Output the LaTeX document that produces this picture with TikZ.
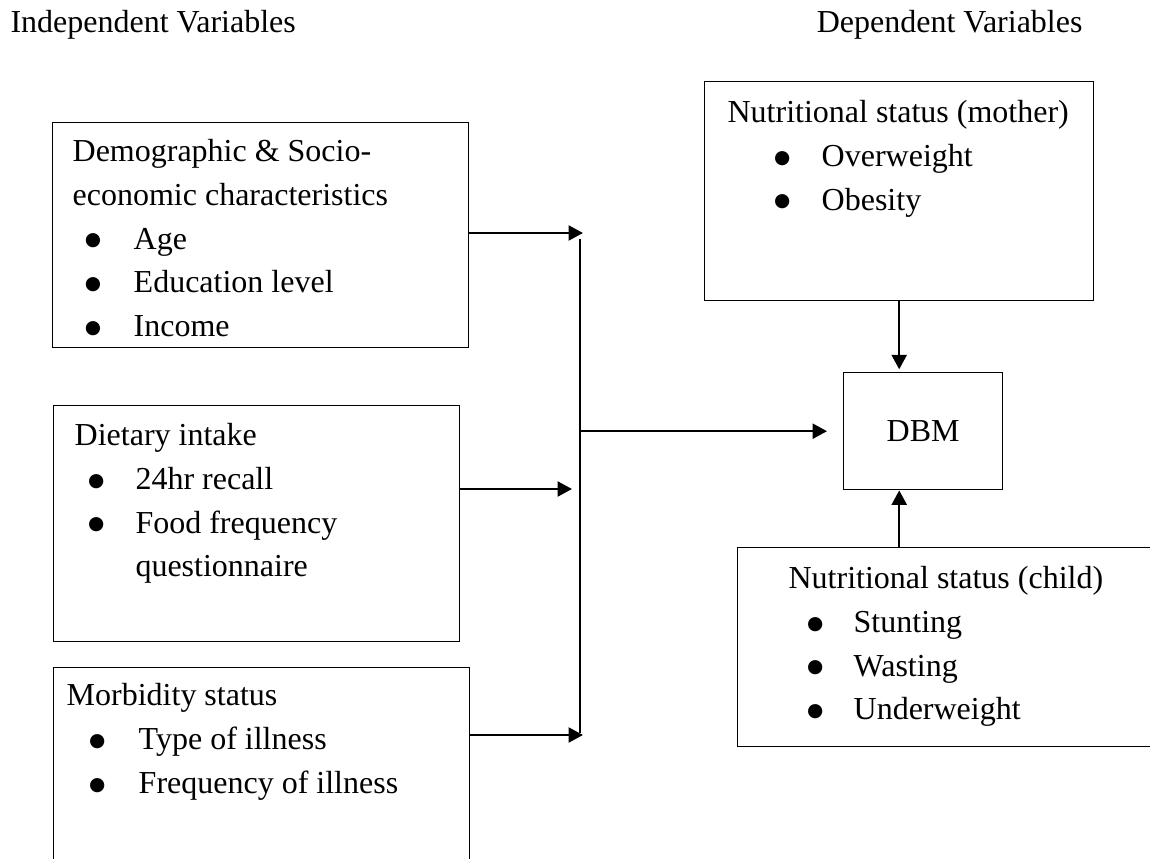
\documentclass[tikz,border=0pt]{standalone}
\usepackage{fontspec}
\setmainfont{Liberation Serif}
\newfontfamily\dotfont{DejaVu Sans}
\usetikzlibrary{arrows.meta,positioning}

\newlength\titx
\newlength\bulx
\newlength\txtx
\newlength\firstb
\newcommand{\setind}[4]{\setlength\titx{#1}\setlength\bulx{#2}\setlength\txtx{#3}\setlength\firstb{#4}}
\newcommand{\vhead}[1]{\vspace*{\dimexpr\firstb-11pt\relax}\rule{0pt}{11pt}\hspace*{\titx}#1}
\newcommand{\vitem}[1]{\par\hspace*{\bulx}\makebox[\dimexpr\txtx-\bulx\relax][l]{\raisebox{1.2pt}{\dotfont\fontsize{7}{7}\selectfont ●}}#1}

\tikzset{
	varbox/.style={draw, line width=0.5pt, anchor=north west, inner sep=0pt},
	link/.style={-{Triangle[length=5.4pt,width=5.6pt]}, line width=0.9pt},
	bus/.style={line width=0.7pt}
}

\begin{document}
\begin{tikzpicture}[x=0.375pt, y=-0.375pt, font=\fontsize{12}{16.4}\selectfont]
	\path[use as bounding box, clip] (0,0) rectangle (1150,859);

	% Headings
	\node[anchor=base west, inner sep=0pt] (indep) at (10,33) {Independent Variables};
	\node[anchor=base east, inner sep=0pt] (dep) at (1083,33) {Dependent Variables};

	% Demographic box
	\node[varbox] (demog) at (52,122) {\parbox[t][84.4pt][t]{156pt}{%
		\setind{7.5pt}{12.1pt}{30.4pt}{14.6pt}%
		\vhead{Demographic \& Socio-}\\\hspace*{\titx}economic characteristics
		\vitem{Age}
		\vitem{Education level}
		\vitem{Income}}};

	% Dietary box
	\node[varbox] (diet) at (53,405) {\parbox[t][88.5pt][t]{152.2pt}{%
		\setind{7.9pt}{12.9pt}{30.7pt}{15pt}%
		\vhead{Dietary intake}
		\vitem{24hr recall}
		\vitem{Food frequency}\\\hspace*{\txtx}questionnaire}};

	% Morbidity box
	\node[varbox] (morb) at (53,667) {\parbox[t][88pt][t]{156pt}{%
		\setind{4.9pt}{13.3pt}{31.9pt}{14.3pt}%
		\vhead{Morbidity status}
		\vitem{Type of illness}
		\vitem{Frequency of illness}}};

	% Mother box
	\node[varbox] (mother) at (704,81) {\parbox[t][82.1pt][t]{145.9pt}{%
		\setind{8.6pt}{26pt}{43.9pt}{15.4pt}%
		\vhead{Nutritional status (mother)}
		\vitem{Overweight}
		\vitem{Obesity}}};

	% DBM box
	\node[varbox] (dbm) at (843,372) {\parbox[c][43.9pt][c]{59.6pt}{\centering DBM}};

	% Child box
	\node[varbox] (child) at (737,547) {\parbox[t][74.6pt][t]{162.4pt}{%
		\setind{19.1pt}{26pt}{43.5pt}{15.4pt}%
		\vhead{Nutritional status (child)}
		\vitem{Stunting}
		\vitem{Wasting}
		\vitem{Underweight}}};

	% Collector line
	\coordinate (in1) at (583,233);
	\coordinate (in2) at (572,489);
	\coordinate (in3) at (583,735);
	\coordinate (bustop) at (580,239);
	\coordinate (busbot) at (580,733);
	\draw[bus] (bustop) -- (busbot);

	% Arrows
	\draw[link] (demog.east |- in1) -- (in1);
	\draw[link] (diet.east |- in2) -- (in2);
	\draw[link] (morb.east |- in3) -- (in3);
	\draw[link, shorten >=6pt] (bustop |- dbm.west) -- (dbm.west);
	\draw[link, shorten >=1pt] (mother.south) -- (mother.south |- dbm.north);
	\draw[link] (child.north -| mother.south) -- (dbm.south -| mother.south);
\end{tikzpicture}
\end{document}
